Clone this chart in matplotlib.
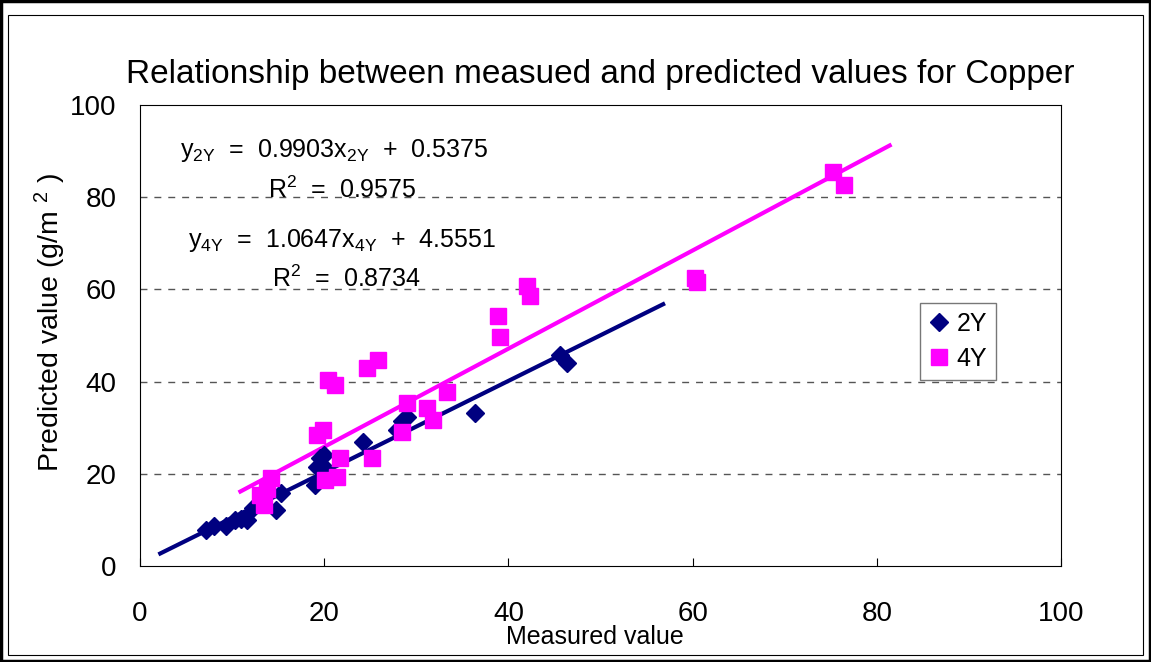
import matplotlib.pyplot as plt
from matplotlib.patches import Rectangle
import numpy as np

# Datos
x_2y = [7.2, 8.0, 9.3, 10.3, 11.0, 11.6, 12.3, 14.8, 15.3, 19.0, 19.2, 19.5,
        19.8, 20.0, 19.9, 24.2, 27.9, 28.4, 29.0, 36.4, 45.6, 46.4]
y_2y = [7.8, 8.6, 8.7, 10.0, 10.2, 10.0, 12.5, 12.1, 15.8, 17.5, 21.5, 23.5,
        22.0, 24.0, 20.8, 26.9, 29.5, 31.5, 32.3, 33.2, 45.7, 44.0]

x_4y = [13.0, 13.5, 14.2, 13.8, 19.2, 19.9, 20.4, 21.2, 24.6, 25.8, 21.7, 25.2,
        20.1, 21.4, 29.0, 28.4, 31.2, 31.8, 33.3, 38.9, 39.1, 42.0, 42.3,
        60.3, 60.5, 75.2, 76.4]
y_4y = [15.5, 13.2, 19.0, 16.8, 28.4, 29.5, 40.3, 39.2, 42.9, 44.6, 23.4, 23.4,
        18.6, 19.3, 35.3, 29.0, 34.2, 31.6, 37.7, 54.2, 49.6, 60.7, 58.5,
        62.4, 61.5, 85.4, 82.6]

# Líneas de tendencia (pendiente, intercepto) y rango en x
ajuste_2y = [0.9903, 0.5375]
rango_2y = [2.2, 56.8]
ajuste_4y = [1.0647, 4.5551]
rango_4y = [10.9, 81.4]

ticks = [0, 20, 40, 60, 80, 100]

NAVY = '#000080'
MAGENTA = '#FF00FF'
plt.rcParams['font.family'] = ['Liberation Sans', 'DejaVu Sans']
plt.rcParams['mathtext.fontset'] = 'custom'
plt.rcParams['mathtext.rm'] = 'Liberation Sans'
plt.rcParams['mathtext.it'] = 'Liberation Sans'

fig = plt.figure(figsize=(11.51, 6.62), dpi=100)
ax = fig.add_axes([140 / 1151, 96 / 662, 921 / 1151, 461 / 662])

# Marcos exteriores de la figura
fig.patches.append(Rectangle((0.001, 0.001), 0.998, 0.997, transform=fig.transFigure,
                             fill=False, edgecolor='black', linewidth=2.5))
fig.patches.append(Rectangle((8 / 1151, 7 / 662), 1135 / 1151, 640 / 662,
                             transform=fig.transFigure, fill=False,
                             edgecolor='black', linewidth=0.8))

# Líneas de tendencia
xs = np.array(rango_2y)
ax.plot(xs, ajuste_2y[0] * xs + ajuste_2y[1], color=NAVY, lw=3, zorder=2)
xs = np.array(rango_4y)
ax.plot(xs, ajuste_4y[0] * xs + ajuste_4y[1], color=MAGENTA, lw=3, zorder=2)

# Puntos
ax.plot(x_2y, y_2y, 'D', color=NAVY, ms=9, mec=NAVY, label='2Y', zorder=3)
ax.plot(x_4y, y_4y, 's', color=MAGENTA, ms=11, mec=MAGENTA, label='4Y', zorder=3)

ax.set_xlim(0, 100)
ax.set_ylim(0, 100)
ax.set_xticks(ticks)
ax.set_yticks(ticks)
for y in ticks[1:-1]:
    ax.axhline(y, color='#555555', lw=1, ls=(0, (5, 5)), zorder=1)

ax.tick_params(direction='in', length=6, width=0.8, labelsize=20, pad=25,
               axis='x')
ax.tick_params(direction='in', length=0, labelsize=20, pad=17, axis='y')
for s in ax.spines.values():
    s.set_linewidth(0.8)

ax.set_title('Relationship between measued and predicted values for Copper',
             fontsize=24, pad=16)
fig.text(595 / 1151, 1 - 637 / 662, 'Measured value', fontsize=18,
         ha='center', va='center')
fig.text(50 / 1151, 1 - 322 / 662, r'Predicted value (g/m $^2$ )', fontsize=20.5,
         rotation=90, ha='center', va='center')

# Ecuaciones
ax.text(4.3, 90.1, r'y$_{\rm 2Y}$  =  0.9903x$_{\rm 2Y}$  +  0.5375', fontsize=18,
        va='center')
ax.text(13.9, 81.5, r'R$^2$  =  0.9575', fontsize=18, va='center')
ax.text(5.2, 70.6, r'y$_{\rm 4Y}$  =  1.0647x$_{\rm 4Y}$  +  4.5551', fontsize=18,
        va='center')
ax.text(14.3, 62.4, r'R$^2$  =  0.8734', fontsize=18, va='center')

leg = ax.legend(loc='upper left', bbox_to_anchor=(780 / 921, 1 - 198 / 461),
                fontsize=18, frameon=True, fancybox=False, borderpad=0.35,
                handlelength=0.8, handletextpad=0.3, labelspacing=0.45,
                borderaxespad=0)
leg.get_frame().set_edgecolor('#555555')
leg.get_frame().set_linewidth(1)

fig.savefig('out.png', dpi=100)
